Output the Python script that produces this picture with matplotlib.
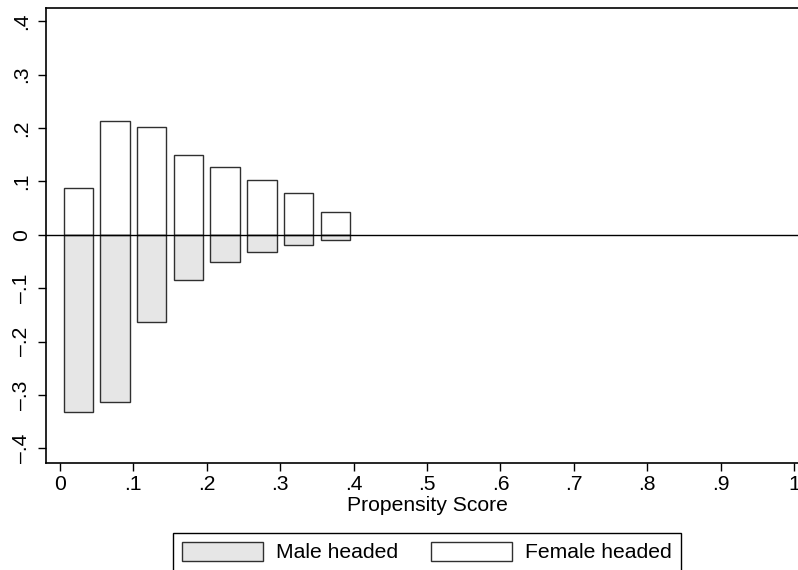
import matplotlib.pyplot as plt
from matplotlib.patches import Patch

plt.rcParams['font.family'] = ['Liberation Sans', 'DejaVu Sans']

# bin centers of the propensity score histogram
bin_centers = [0.025, 0.075, 0.125, 0.175, 0.225, 0.275, 0.325, 0.375]
female = [0.087, 0.213, 0.202, 0.150, 0.127, 0.102, 0.078, 0.043]
male = [0.331, 0.313, 0.164, 0.085, 0.050, 0.033, 0.019, 0.010]

x_ticks = [0, 0.1, 0.2, 0.3, 0.4, 0.5, 0.6, 0.7, 0.8, 0.9, 1]
x_labels = ['0', '.1', '.2', '.3', '.4', '.5', '.6', '.7', '.8', '.9', '1']
y_ticks = [-0.4, -0.3, -0.2, -0.1, 0, 0.1, 0.2, 0.3, 0.4]
y_labels = ['–.4', '–.3', '–.2', '–.1', '0', '.1', '.2', '.3', '.4']

male_color = '#e6e6e6'
edge = '#303030'
fs = 15.2

fig = plt.figure(figsize=(7.98, 5.70), dpi=100)
# plot region runs a little past the right edge of the image, as in the original
ax = fig.add_axes([46 / 798, 0.188, 762 / 798, 0.798])

ax.bar(bin_centers, female, width=0.04, color='white', edgecolor=edge, linewidth=1)
ax.bar(bin_centers, [-v for v in male], width=0.04, color=male_color,
       edgecolor=edge, linewidth=1)
ax.axhline(0, color='black', linewidth=1)

ax.set_xlim(-0.019, 1.019)
ax.set_ylim(-0.427, 0.425)
ax.set_xticks(x_ticks)
ax.set_xticklabels(x_labels)
ax.set_yticks(y_ticks)
ax.set_yticklabels(y_labels, rotation=90, va='center')
ax.tick_params(labelsize=fs, length=6, width=1, direction='out', color='black', pad=3)
ax.tick_params(axis='y', pad=5)
for s in ax.spines.values():
    s.set_linewidth(1.2)
ax.spines['right'].set_visible(False)
ax.set_xlabel('Propensity Score', fontsize=fs, labelpad=1)

handles = [Patch(facecolor=male_color, edgecolor=edge, label='Male headed'),
           Patch(facecolor='white', edgecolor=edge, label='Female headed')]
leg = fig.legend(handles=handles, loc='center', bbox_to_anchor=(427 / 798, 1 - 552 / 570),
                 ncol=2, fontsize=fs, frameon=True, fancybox=False, edgecolor='black',
                 framealpha=1, handlelength=3.84, handleheight=1.04, columnspacing=1.56,
                 handletextpad=0.62, borderpad=0.41, borderaxespad=0)
leg.get_frame().set_linewidth(1)

fig.savefig('out.png', dpi=100)
